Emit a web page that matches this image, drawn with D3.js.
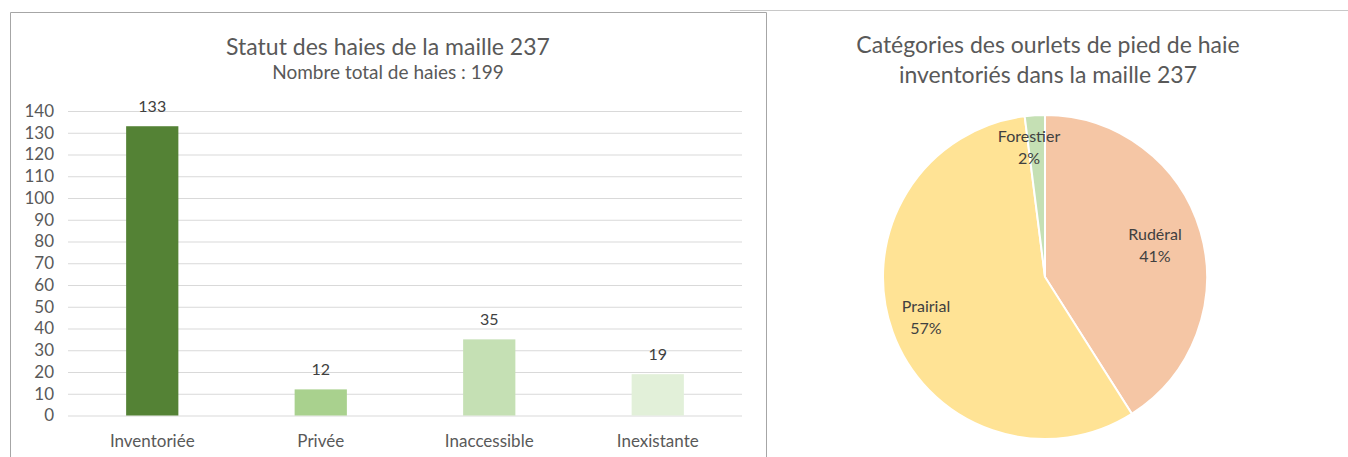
<!DOCTYPE html>
<html>
<head>
<meta charset="utf-8">
<script src="https://cdn.jsdelivr.net/npm/d3@7"></script>
<style>
  body { margin: 0; background: #fff; }
  svg { display: block; font-family: Lato, "Open Sans", sans-serif; }
</style>
</head>
<body>
<svg width="1348" height="457"></svg>
<script>
// bar chart data
statuts = ["Inventoriée", "Privée", "Inaccessible", "Inexistante"];
nb_haies = [133, 12, 35, 19];
couleurs_barres = ["#548235", "#a9d18e", "#c5e0b4", "#e2f0d9"];
y_ticks = [0, 10, 20, 30, 40, 50, 60, 70, 80, 90, 100, 110, 120, 130, 140];

// pie data
ourlets = ["Rudéral", "Prairial", "Forestier"];
ourlets_pct = [41, 57, 2];
couleurs_pie = ["#f5c6a5", "#ffe395", "#c5e0b4"];

const svg = d3.select("svg");

// panel borders
svg.append("path")
    .attr("d", "M10.5,457 V12.5 H766.5 V457")
    .attr("fill", "none")
    .attr("stroke", "#a6a6a6");
svg.append("line")
    .attr("x1", 730).attr("x2", 1348).attr("y1", 10.5).attr("y2", 10.5)
    .attr("stroke", "#c8c8c8");

// ---- bar chart ----
const x = d3.scaleBand()
    .domain(statuts)
    .range([68, 742])
    .paddingInner(0.69)
    .paddingOuter(0.345);

const y = d3.scaleLinear()
    .domain([0, 140])
    .range([415.5, 111]);

const bar = svg.append("g");

bar.append("text")
    .attr("x", 388).attr("y", 55)
    .attr("text-anchor", "middle")
    .attr("font-size", 23)
    .attr("fill", "#595959")
    .text("Statut des haies de la maille 237");

bar.append("text")
    .attr("x", 388).attr("y", 79)
    .attr("text-anchor", "middle")
    .attr("font-size", 19)
    .attr("fill", "#595959")
    .text("Nombre total de haies : 199");

// gridlines + y axis labels
const yAxis = bar.append("g")
    .attr("transform", "translate(68,0)")
    .call(d3.axisLeft(y).tickValues(y_ticks).tickSize(-674).tickPadding(14));
yAxis.select(".domain").remove();
yAxis.selectAll(".tick line").attr("stroke", "#d9d9d9");
yAxis.selectAll(".tick text")
    .attr("font-size", 17)
    .attr("font-family", "Lato, sans-serif")
    .attr("fill", "#595959");

bar.selectAll("rect.b")
  .data(statuts)
  .join("rect")
    .attr("class", "b")
    .attr("x", d => x(d))
    .attr("width", x.bandwidth())
    .attr("y", (d, i) => y(nb_haies[i]))
    .attr("height", (d, i) => y(0) - y(nb_haies[i]))
    .attr("fill", (d, i) => couleurs_barres[i]);

bar.selectAll("text.v")
  .data(statuts)
  .join("text")
    .attr("class", "v")
    .attr("x", d => x(d) + x.bandwidth() / 2)
    .attr("y", (d, i) => y(nb_haies[i]) - 14)
    .attr("text-anchor", "middle")
    .attr("font-size", 16)
    .attr("fill", "#404040")
    .text((d, i) => nb_haies[i]);

bar.selectAll("text.c")
  .data(statuts)
  .join("text")
    .attr("class", "c")
    .attr("x", d => x(d) + x.bandwidth() / 2)
    .attr("y", 447)
    .attr("text-anchor", "middle")
    .attr("font-size", 17)
    .attr("fill", "#595959")
    .text(d => d);

// ---- pie chart ----
const cx = 1045, cy = 277, r = 162;
const pie_g = svg.append("g");

pie_g.append("text")
    .attr("x", 1048).attr("y", 53)
    .attr("text-anchor", "middle")
    .attr("font-size", 23)
    .attr("fill", "#595959")
    .text("Catégories des ourlets de pied de haie");
pie_g.append("text")
    .attr("x", 1048).attr("y", 83)
    .attr("text-anchor", "middle")
    .attr("font-size", 23)
    .attr("fill", "#595959")
    .text("inventoriés dans la maille 237");

const pie = d3.pie().sort(null).value(d => d)(ourlets_pct);
const arc = d3.arc().innerRadius(0).outerRadius(r);

const slices = pie_g.append("g").attr("transform", `translate(${cx},${cy})`);
slices.selectAll("path")
  .data(pie)
  .join("path")
    .attr("d", arc)
    .attr("fill", (d, i) => couleurs_pie[i])
    .attr("stroke", "#fff")
    .attr("stroke-width", 2);

// label positions (relative to centre)
const lab_pos = [[110, -37], [-119, 35], [-16, -135]];
const lab = slices.selectAll("g.l")
  .data(pie)
  .join("g")
    .attr("class", "l")
    .attr("transform", (d, i) => `translate(${lab_pos[i][0]},${lab_pos[i][1]})`);
lab.append("text")
    .attr("text-anchor", "middle")
    .attr("font-size", 16)
    .attr("fill", "#404040")
    .text((d, i) => ourlets[i]);
lab.append("text")
    .attr("text-anchor", "middle")
    .attr("y", 22)
    .attr("font-size", 16)
    .attr("fill", "#404040")
    .text((d, i) => ourlets_pct[i] + "%");
</script>
</body>
</html>
